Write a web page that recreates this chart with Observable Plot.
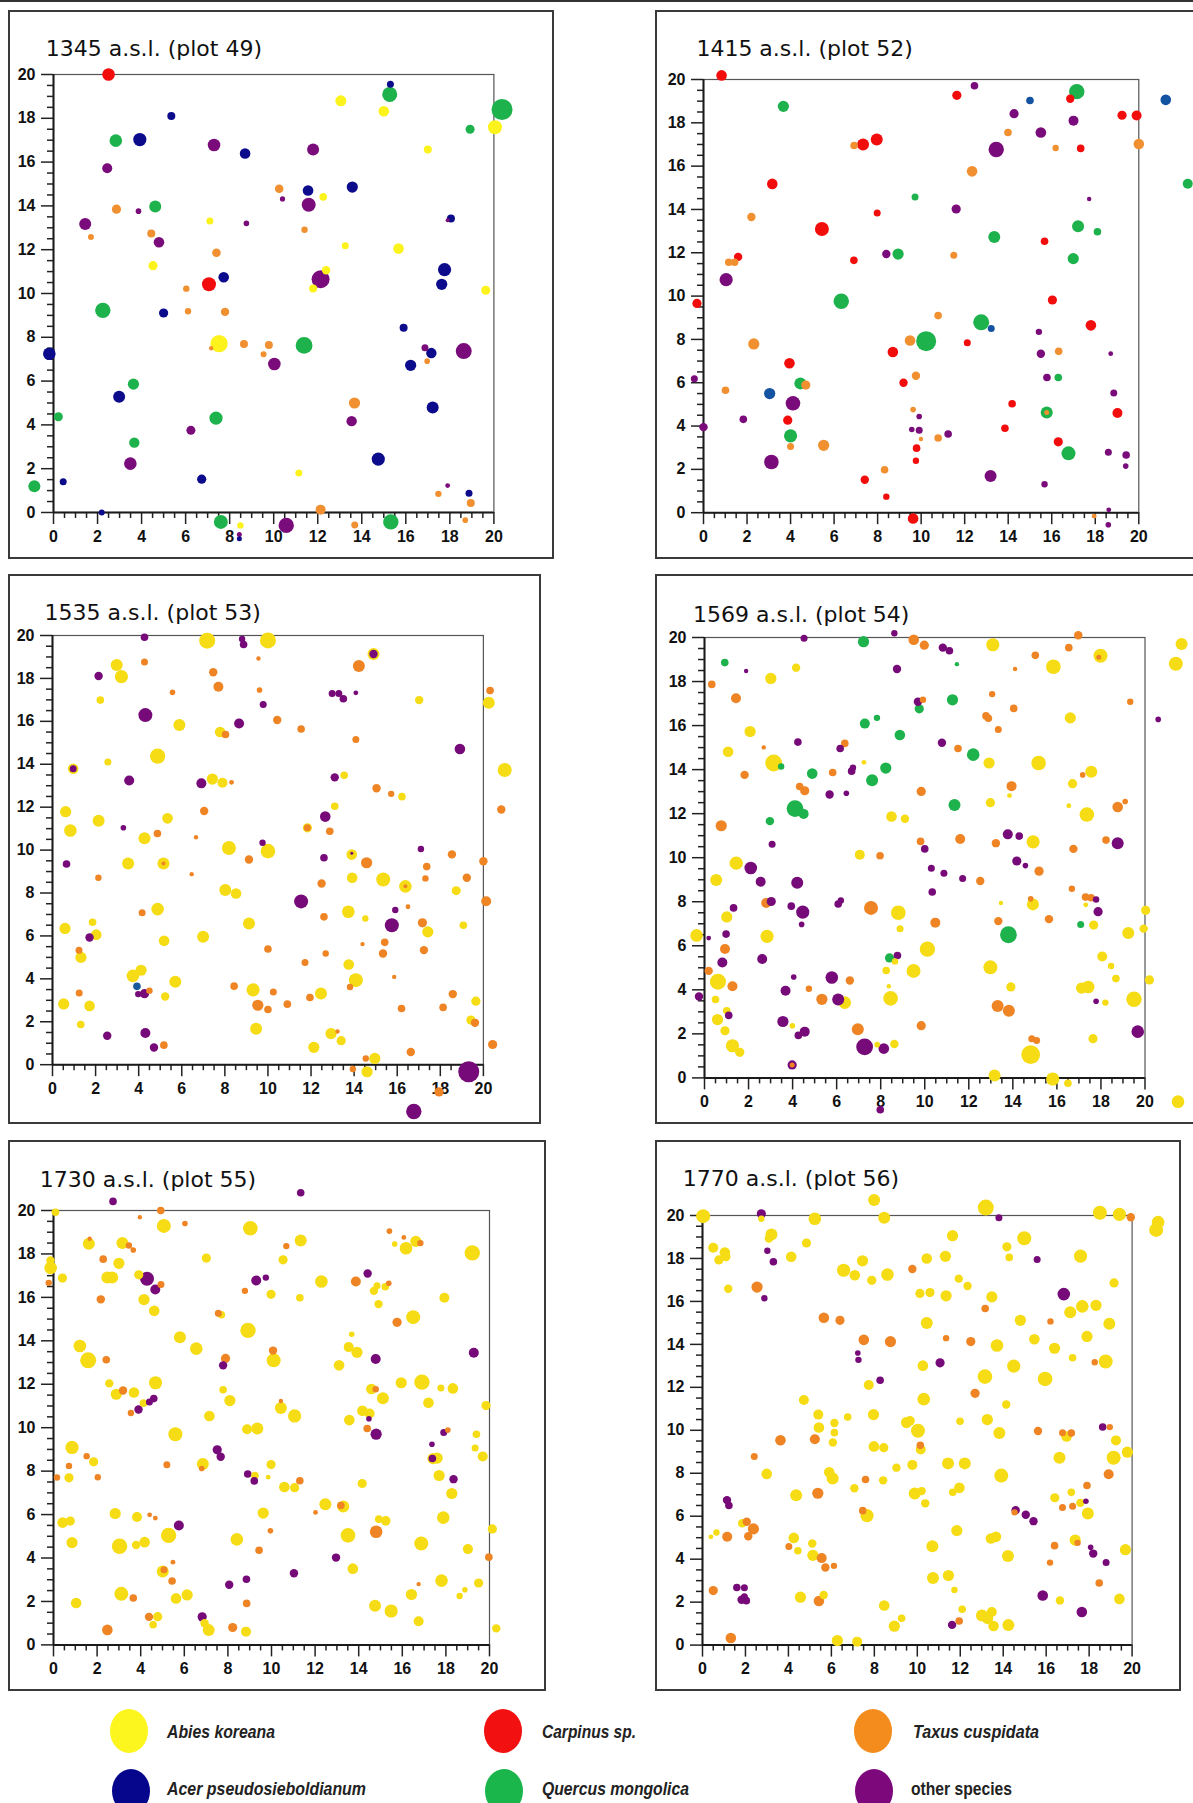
<!DOCTYPE html>
<html><head><meta charset="utf-8">
<script src="https://cdn.jsdelivr.net/npm/d3@7"></script>
<script src="https://cdn.jsdelivr.net/npm/@observablehq/plot@0.6"></script>
<style>
html,body{margin:0;padding:0;background:#fff;overflow:hidden}
#page{position:relative;width:1193px;height:1803px;overflow:hidden;background:#fff}
#page svg text{font-weight:bold}
#page svg.deco text.title{font-weight:normal}
#page svg.deco text.leg{font-weight:bold}
</style></head><body><div id="page"></div>
<script>
// species categories
const speciesCodes = ["A","C","T","P","Q","O"];
const speciesNames = ["Abies koreana","Carpinus sp.","Taxus cuspidata","Acer pseudosieboldianum","Quercus mongolica","other species"];
const majorTicks = [0,2,4,6,8,10,12,14,16,18,20];
const panelTitles = ["1345 a.s.l. (plot 49)","1415 a.s.l. (plot 52)","1535 a.s.l. (plot 53)","1569 a.s.l. (plot 54)","1730 a.s.l. (plot 55)","1770 a.s.l. (plot 56)"];

// [x (m), y (m), size, species]
const p49 = [[2.5,20.0,6.3,"C"],[15.3,19.55,3.5,"P"],[13.05,18.8,5.5,"A"],[15.27,19.09,7.5,"Q"],[20.37,18.4,10.5,"Q"],[15.0,18.32,5.3,"A"],[20.05,17.59,7,"A"],[18.92,17.5,4.5,"Q"],[5.35,18.1,4,"P"],[2.83,16.98,6.3,"Q"],[3.92,17.03,6.6,"P"],[7.29,16.78,6.3,"O"],[8.7,16.39,5.3,"P"],[11.79,16.57,6,"O"],[17.0,16.57,4,"A"],[2.44,15.72,5,"O"],[10.25,14.78,4.3,"T"],[11.56,14.7,5.3,"P"],[10.4,14.32,2.6,"O"],[12.25,14.41,3.8,"A"],[13.57,14.86,5.6,"P"],[11.59,14.05,7,"O"],[2.86,13.85,4.6,"T"],[3.86,13.76,2.8,"O"],[4.62,13.97,6,"Q"],[1.44,13.17,6,"O"],[1.7,12.58,3,"T"],[7.1,13.31,3.5,"A"],[8.76,13.2,2.8,"O"],[4.44,12.74,4,"T"],[4.79,12.34,5.3,"O"],[11.4,12.91,3.2,"T"],[17.9,13.35,2,"O"],[18.05,13.42,4,"P"],[13.25,12.18,3.5,"A"],[15.67,12.05,5.3,"A"],[7.4,11.86,4.3,"T"],[4.52,11.27,4.6,"A"],[17.76,11.09,6.6,"P"],[7.73,10.74,5.3,"P"],[7.06,10.42,7,"C"],[12.38,11.06,4.2,"A"],[12.13,10.65,9,"O"],[11.79,10.23,4,"A"],[17.63,10.42,5.6,"P"],[19.63,10.15,4.5,"A"],[6.03,10.22,3.2,"T"],[2.24,9.23,7.7,"Q"],[5.0,9.11,4.6,"P"],[6.11,9.19,3.2,"T"],[7.79,9.16,4.2,"T"],[15.9,8.44,4,"P"],[7.52,7.71,8.7,"A"],[7.16,7.5,2.2,"T"],[8.65,7.69,4,"T"],[9.78,7.65,4,"T"],[9.54,7.23,3,"T"],[11.38,7.63,8.4,"Q"],[10.03,6.78,6.3,"O"],[-0.19,7.25,6.3,"P"],[16.87,7.52,3.5,"O"],[17.16,7.28,5.2,"P"],[16.97,6.91,2.8,"T"],[18.63,7.37,8,"O"],[16.22,6.72,5.6,"P"],[3.63,5.86,5.6,"Q"],[2.98,5.28,6,"P"],[13.67,5.0,5.6,"T"],[0.22,4.37,4.5,"Q"],[7.38,4.31,6.6,"Q"],[13.54,4.17,5.2,"O"],[17.22,4.79,6,"P"],[6.24,3.75,4.5,"O"],[3.67,3.19,5.2,"Q"],[3.49,2.23,6.3,"O"],[14.75,2.44,6.6,"P"],[11.14,1.8,3.5,"A"],[-0.87,1.2,6,"Q"],[0.44,1.4,3.5,"P"],[6.73,1.52,4.6,"P"],[17.9,1.23,2.4,"O"],[17.48,0.85,3.2,"T"],[18.87,0.88,3.5,"P"],[18.95,0.43,4,"T"],[2.19,0,3,"P"],[12.13,0.13,5,"T"],[7.6,-0.43,7,"Q"],[8.49,-0.59,3.2,"A"],[8.44,-1.0,2.5,"O"],[8.44,-1.2,2.5,"P"],[10.57,-0.59,7.7,"O"],[13.68,-0.57,3.5,"T"],[15.32,-0.43,7.7,"Q"],[18.7,-0.35,2.8,"T"]];

const p52 = [[0.83,20.19,5.3,"C"],[3.67,18.76,5.6,"Q"],[11.64,19.27,4.6,"C"],[12.45,19.71,3.8,"O"],[15.0,19.03,3.8,"P"],[16.85,19.11,4.2,"C"],[17.15,19.44,7.7,"Q"],[21.24,19.06,5.3,"P"],[14.27,18.42,4.6,"O"],[17.0,18.1,5,"O"],[19.23,18.35,4.6,"C"],[19.9,18.34,5,"C"],[13.99,17.55,3.8,"T"],[15.5,17.55,5.3,"O"],[6.92,16.95,3.8,"T"],[7.33,17.0,6,"C"],[7.96,17.23,6,"C"],[13.45,16.77,7.7,"O"],[16.18,16.84,3.2,"T"],[17.33,16.82,3.8,"C"],[20.0,17.02,5.3,"T"],[12.34,15.76,5.3,"T"],[3.16,15.18,5.3,"C"],[9.72,14.58,3.5,"Q"],[22.25,15.19,5,"Q"],[7.98,13.84,3.5,"C"],[11.61,14.02,4.6,"O"],[17.72,14.48,2.2,"O"],[2.2,13.65,4.2,"T"],[5.44,13.1,7,"C"],[13.36,12.73,6,"Q"],[17.21,13.23,6,"Q"],[18.1,12.97,3.8,"Q"],[15.67,12.53,3.8,"C"],[1.59,11.81,4.2,"C"],[1.16,11.56,3.8,"T"],[1.43,11.56,3.8,"T"],[6.91,11.65,3.8,"C"],[8.4,11.94,4.2,"O"],[8.94,11.94,5.6,"Q"],[11.5,11.89,3.5,"T"],[16.99,11.73,5.6,"Q"],[1.04,10.76,6.6,"O"],[-0.3,9.66,4.6,"C"],[6.33,9.76,7.7,"Q"],[16.03,9.82,4.6,"C"],[10.78,9.1,3.8,"T"],[12.76,8.79,8,"Q"],[13.22,8.5,3.5,"P"],[17.8,8.65,5.3,"C"],[15.41,8.35,3.2,"O"],[2.31,7.79,5.6,"T"],[9.49,7.95,5.3,"T"],[10.23,7.92,10,"Q"],[12.12,7.85,3.5,"C"],[8.7,7.42,5.3,"C"],[15.5,7.34,4.2,"O"],[16.32,7.45,3.8,"T"],[18.71,7.34,2.4,"O"],[3.95,6.9,5.3,"C"],[-0.42,6.18,3.5,"O"],[4.45,5.97,6,"Q"],[4.7,5.89,4.6,"T"],[1.01,5.65,3.8,"T"],[3.04,5.5,5.6,"P"],[4.11,5.05,7.3,"O"],[9.19,6.0,4.2,"C"],[9.76,6.32,4.2,"T"],[15.78,6.24,3.8,"O"],[16.3,6.24,3.8,"Q"],[18.85,5.53,3.5,"O"],[1.83,4.31,3.8,"O"],[3.87,4.27,4.6,"C"],[0,3.95,4.2,"O"],[9.63,4.76,2.8,"T"],[9.91,4.44,2.8,"O"],[9.57,3.84,2.8,"O"],[9.91,3.81,3.5,"O"],[9.99,3.4,2.2,"T"],[10.78,3.45,3.8,"T"],[11.24,3.63,3.8,"O"],[14.18,5.03,3.8,"C"],[13.85,3.9,3.8,"C"],[15.77,4.63,6,"Q"],[15.77,4.63,2.5,"T"],[19.02,4.6,5,"C"],[4.0,3.55,6.6,"Q"],[4.0,3.06,3.5,"T"],[5.52,3.11,5.6,"T"],[9.79,2.98,3.8,"C"],[16.3,3.27,4.6,"C"],[16.77,2.74,7,"Q"],[18.6,2.79,3.5,"O"],[19.42,2.66,3.8,"O"],[19.4,2.15,2.8,"O"],[9.76,2.4,3.2,"C"],[3.12,2.34,7.3,"O"],[8.32,1.98,3.8,"T"],[7.41,1.52,4.2,"C"],[13.19,1.69,6,"O"],[15.67,1.31,3.2,"O"],[8.4,0.74,3.2,"C"],[9.63,-0.27,5.3,"C"],[17.95,-0.16,2.4,"T"],[18.62,0.13,2.4,"O"],[18.6,-0.56,2.8,"O"]];

const p53 = [[4.27,19.92,3.8,"O"],[7.18,19.76,8,"A"],[8.8,19.84,3.2,"O"],[8.87,19.58,3.8,"O"],[10.0,19.77,8,"A"],[14.9,19.14,6,"A"],[14.9,19.14,4.2,"O"],[14.22,18.58,6,"T"],[4.27,18.76,3.5,"T"],[9.56,18.93,2.2,"T"],[2.98,18.63,6,"A"],[3.2,18.08,6.6,"A"],[2.14,18.11,4.2,"O"],[7.46,18.29,4.2,"T"],[7.7,17.61,5,"T"],[5.57,17.35,2.8,"T"],[9.61,17.46,2.8,"T"],[2.22,16.99,3.8,"A"],[12.98,17.3,3.5,"O"],[13.29,17.3,3.5,"O"],[13.5,17.05,3.8,"O"],[14.08,17.33,2.4,"O"],[20.31,17.44,3.8,"T"],[20.25,16.87,6,"A"],[17.02,16.99,4.2,"A"],[4.31,16.29,7,"O"],[9.78,16.78,3.5,"O"],[10.43,16.06,4.2,"T"],[5.89,15.83,6,"A"],[8.66,15.9,5,"O"],[7.78,15.5,5.3,"A"],[8.03,15.39,3.8,"T"],[11.54,15.64,3.8,"T"],[14.08,15.15,3.5,"T"],[18.91,14.71,5.3,"O"],[4.88,14.38,7.7,"A"],[2.57,14.1,3.5,"A"],[0.96,13.79,5.3,"A"],[0.96,13.79,3.5,"O"],[20.99,13.73,7,"A"],[3.56,13.24,5,"O"],[7.42,13.31,5.6,"A"],[7.89,13.14,5,"A"],[8.31,13.16,2.4,"T"],[6.91,13.11,5,"O"],[13.1,13.39,4.2,"O"],[13.54,13.49,3.8,"A"],[15.04,12.88,4.2,"T"],[15.72,12.62,3.2,"T"],[16.22,12.49,3.8,"A"],[0.61,11.79,5.6,"A"],[7.04,11.82,4.2,"T"],[13.1,12.04,3.8,"A"],[20.83,11.89,4.2,"T"],[2.14,11.37,6,"A"],[5.34,11.48,5.3,"A"],[12.66,11.56,5.3,"O"],[0.83,10.91,6.3,"A"],[3.29,11.04,2.8,"O"],[11.83,11.04,4.6,"A"],[11.83,11.04,3.5,"T"],[12.87,10.88,3.8,"T"],[4.27,10.55,6,"A"],[4.87,10.77,3.8,"T"],[6.66,10.6,2.2,"T"],[9.75,10.34,3.2,"O"],[8.19,10.1,7,"A"],[10.0,9.95,7.3,"A"],[17.1,10.05,3.2,"O"],[13.89,9.79,5.3,"A"],[13.89,9.85,1.5,"O"],[0.65,9.35,3.8,"O"],[3.51,9.38,6,"A"],[5.15,9.38,6,"A"],[5.15,9.38,2,"T"],[9.12,9.56,4.2,"T"],[12.6,9.64,3.8,"O"],[14.58,9.41,5.6,"T"],[18.54,9.8,4.2,"T"],[20.0,9.48,4.2,"T"],[17.37,9.23,3.8,"T"],[2.13,8.71,3.2,"T"],[6.46,8.88,2.2,"T"],[13.91,8.71,5.3,"A"],[15.35,8.63,7,"A"],[17.31,8.68,3.2,"T"],[19.23,8.71,4.2,"T"],[12.49,8.44,4.2,"T"],[16.38,8.31,6.3,"A"],[16.38,8.31,2,"T"],[8.02,8.14,6,"A"],[8.52,7.98,5.3,"A"],[18.74,8.11,4.5,"A"],[11.54,7.61,7,"O"],[20.13,7.62,5,"T"],[4.88,7.25,6.3,"A"],[4.16,7.08,3.5,"T"],[13.73,7.13,6.3,"A"],[15.91,7.21,3.2,"O"],[16.5,7.36,2.4,"T"],[14.52,6.81,3.2,"A"],[12.6,6.89,3.8,"T"],[9.12,6.58,6,"A"],[15.75,6.5,7,"O"],[17.17,6.61,4.6,"T"],[17.42,6.19,5.6,"A"],[19.07,6.5,3.8,"A"],[0.58,6.35,5.6,"A"],[1.86,6.64,3.8,"A"],[2.03,6.06,5.3,"A"],[1.72,5.93,4.2,"O"],[6.99,5.96,6,"A"],[5.18,5.77,5.3,"A"],[10.0,5.39,3.8,"T"],[14.39,5.62,2.2,"T"],[15.42,5.7,3.8,"T"],[15.34,5.18,4.2,"T"],[12.68,5.18,3.2,"T"],[17.24,5.34,4.2,"T"],[1.23,5.33,3.5,"T"],[1.32,5.0,5.6,"A"],[11.72,4.76,3.5,"T"],[13.75,4.67,5.3,"A"],[4.11,4.4,5.6,"A"],[3.73,4.14,6.3,"A"],[15.86,4.09,2.2,"T"],[14.08,3.94,7,"A"],[5.7,3.86,6,"A"],[8.43,3.66,3.8,"T"],[3.92,3.65,3.8,"P"],[3.98,3.29,3.2,"O"],[4.5,3.45,3.2,"T"],[4.27,3.31,4.6,"O"],[13.81,3.62,3.2,"T"],[9.31,3.49,6.6,"A"],[1.24,3.34,3.5,"T"],[10.25,3.39,3.5,"T"],[12.46,3.32,6,"A"],[11.95,3.13,3.8,"T"],[18.58,3.29,4.2,"T"],[5.23,3.18,4.2,"A"],[0.52,2.83,5.6,"A"],[1.72,2.74,5.3,"A"],[9.53,2.77,5.6,"T"],[10.0,2.57,3.8,"T"],[10.9,2.82,3.8,"T"],[16.2,2.62,3.8,"T"],[18.13,2.67,3.8,"T"],[19.65,2.96,4.6,"A"],[19.42,2.08,4.6,"A"],[19.61,1.95,4.2,"T"],[1.31,1.87,3.8,"A"],[9.45,1.68,6,"A"],[2.54,1.35,4.2,"O"],[4.31,1.48,5,"O"],[12.93,1.45,5.6,"A"],[13.23,1.55,2.2,"T"],[13.4,1.12,4.6,"A"],[4.71,0.8,4.2,"O"],[5.17,0.91,3.8,"T"],[12.13,0.81,5.6,"A"],[16.63,0.59,4.2,"T"],[20.43,0.94,4.6,"T"],[14.54,0.29,3.2,"T"],[14.96,0.29,5.6,"A"],[14.6,-0.33,5.6,"A"],[13.94,-0.2,3.2,"T"],[19.32,-0.33,10.5,"O"],[17.94,-1.27,4.6,"T"],[16.77,-2.18,7.7,"O"]];

const p54 = [[4.52,19.97,3.5,"O"],[8.62,20.19,3.2,"O"],[7.22,19.81,5.6,"Q"],[9.5,19.9,5.3,"T"],[9.98,19.65,4.6,"T"],[10.82,19.54,4.2,"O"],[11.12,19.4,3.8,"O"],[13.09,19.67,6.6,"A"],[15.02,19.19,3.8,"T"],[16.54,19.54,3.8,"T"],[16.97,20.1,4.2,"T"],[17.98,19.17,7,"A"],[17.9,19.1,2.5,"T"],[21.66,19.7,6,"A"],[21.4,18.81,7,"A"],[0.92,18.86,3.8,"Q"],[1.89,18.48,2.2,"O"],[4.16,18.63,4.2,"A"],[8.74,18.57,4.2,"O"],[11.46,18.79,2.2,"Q"],[15.84,18.67,7.3,"A"],[14.1,18.57,2.2,"T"],[3.01,18.14,5.6,"A"],[0.33,17.87,3.8,"T"],[1.43,17.24,5,"T"],[11.26,17.17,5.6,"Q"],[9.69,17.08,4.2,"O"],[9.92,17.17,3.2,"T"],[9.75,16.76,4.6,"Q"],[13.06,17.43,3.2,"T"],[19.33,17.08,3.2,"T"],[14.04,16.78,3.8,"T"],[12.78,16.44,3.8,"T"],[12.89,16.33,3.8,"T"],[16.61,16.35,5.6,"A"],[20.6,16.28,2.8,"O"],[7.83,16.35,3.2,"Q"],[7.28,16.09,5,"Q"],[2.07,15.73,5.6,"A"],[13.34,15.82,3.5,"T"],[8.87,15.57,5.3,"Q"],[4.24,15.25,3.8,"O"],[6.37,15.19,3.8,"T"],[6.16,14.96,3.8,"O"],[2.69,15.01,2.2,"T"],[1.07,14.81,5.3,"A"],[10.78,15.22,4.2,"O"],[11.51,14.96,3.8,"T"],[12.2,14.68,6.3,"Q"],[3.14,14.3,8.4,"A"],[3.48,14.14,3.2,"Q"],[7.24,14.33,2.4,"A"],[12.92,14.3,5.6,"A"],[15.17,14.3,7.3,"A"],[1.82,13.76,4.2,"T"],[4.89,13.82,5.3,"Q"],[5.82,13.87,3.8,"T"],[6.68,13.93,3.8,"O"],[6.74,14.09,3.2,"O"],[8.23,14.07,5.6,"Q"],[7.61,13.52,6,"Q"],[17.17,13.76,2.8,"T"],[17.56,13.9,6,"A"],[4.32,13.23,3.8,"T"],[4.55,13.04,4.6,"T"],[13.94,13.25,5,"T"],[16.71,13.36,4.6,"A"],[5.68,12.87,4.2,"O"],[6.44,12.93,2.8,"O"],[9.84,13.01,4.6,"T"],[13.85,12.82,2.4,"A"],[19.1,12.55,2.8,"T"],[4.11,12.23,8.4,"Q"],[4.5,11.99,5,"Q"],[11.35,12.39,6,"Q"],[12.98,12.5,4.6,"A"],[16.54,12.36,2.4,"A"],[17.36,11.96,7.3,"A"],[18.76,12.3,5.3,"T"],[0.76,11.45,5.6,"T"],[2.97,11.66,4.2,"Q"],[8.49,11.87,5.3,"A"],[9.1,11.77,4.2,"A"],[13.77,11.06,5,"O"],[14.29,10.98,3.8,"O"],[14.92,10.72,6.6,"A"],[18.23,10.8,3.8,"T"],[18.76,10.66,6,"O"],[3.07,10.61,3.5,"O"],[9.81,10.74,3.8,"T"],[10.0,10.4,3.8,"O"],[11.61,10.85,5,"T"],[13.23,10.66,4.2,"T"],[16.75,10.4,4.2,"T"],[7.05,10.13,5,"A"],[7.97,10.09,3.8,"T"],[1.44,9.75,6.6,"A"],[2.1,9.53,6.3,"O"],[10.3,9.52,3.5,"O"],[10.87,9.29,3.5,"O"],[14.18,9.85,4.6,"O"],[14.57,9.64,2.8,"O"],[15.19,9.39,4.6,"T"],[0.53,8.99,6,"A"],[2.55,8.91,5,"O"],[4.21,8.86,6,"O"],[11.72,9.05,3.5,"O"],[12.52,8.94,4.2,"T"],[16.68,8.59,3.2,"T"],[10.34,8.44,3.8,"O"],[1.32,7.72,3.8,"O"],[2.8,7.94,5,"T"],[3.03,8.01,4.6,"O"],[3.94,7.8,3.8,"O"],[4.46,7.53,6.6,"O"],[6.07,7.9,3.8,"O"],[6.19,8.06,3.2,"O"],[7.56,7.72,7,"T"],[8.8,7.5,7.3,"A"],[13.46,7.94,2.2,"A"],[14.91,7.88,6,"A"],[14.81,8.13,2.8,"T"],[17.3,8.21,3.8,"T"],[17.55,8.18,3.8,"T"],[17.31,7.86,2.4,"A"],[17.78,8.1,3.2,"O"],[17.87,7.55,4.6,"O"],[20.03,7.61,4.6,"A"],[1.01,7.31,5.6,"A"],[4.41,6.97,2.8,"O"],[10.48,7.05,5,"T"],[13.34,7.12,4.2,"T"],[15.64,7.21,4.2,"T"],[17.08,6.97,3.5,"Q"],[17.67,6.94,4.6,"A"],[8.88,6.77,3.5,"A"],[13.8,6.5,8.4,"Q"],[19.94,6.78,4.2,"A"],[19.24,6.58,6,"A"],[-0.36,6.47,6.3,"A"],[0.19,6.35,2.4,"O"],[0.98,6.53,3.8,"O"],[2.84,6.43,6.6,"A"],[0.93,5.85,5,"T"],[10.12,5.85,7.7,"A"],[0.81,5.24,5,"O"],[2.62,5.4,5,"O"],[8.4,5.45,4.6,"Q"],[8.76,5.56,3.8,"O"],[8.65,5.29,3.2,"A"],[18.06,5.51,5,"A"],[18.46,5.08,3.2,"A"],[12.98,5.02,7,"A"],[0.19,4.86,4.2,"T"],[9.49,4.86,7,"A"],[8.25,4.88,3.8,"A"],[5.78,4.56,6.3,"O"],[4.05,4.58,2.8,"O"],[18.68,4.51,3.8,"A"],[20.2,4.45,4.6,"A"],[0.61,4.37,8,"A"],[1.27,4.16,5,"T"],[6.6,4.42,4.2,"T"],[4.74,4.05,3.2,"T"],[3.68,3.96,5,"O"],[13.91,4.13,4.6,"A"],[8.37,4.16,2.2,"A"],[17.42,4.13,6.3,"A"],[17.12,4.08,5.6,"A"],[-0.25,3.7,4.2,"O"],[0.5,3.56,3.8,"A"],[5.33,3.57,5.6,"T"],[6.07,3.56,6,"O"],[6.37,3.42,6.3,"A"],[8.45,3.61,7.3,"A"],[17.78,3.48,2.8,"O"],[18.2,3.42,3.2,"A"],[19.5,3.57,7.7,"A"],[13.31,3.27,6,"T"],[13.82,3.05,6,"T"],[1.01,3.05,3.8,"A"],[1.1,2.84,3.8,"O"],[0.59,2.65,5.6,"A"],[3.56,2.56,5.6,"O"],[3.99,2.37,2.8,"A"],[6.96,2.21,6,"T"],[9.84,2.37,4.6,"T"],[0.93,2.14,4.6,"A"],[4.55,2.1,5,"O"],[4.26,1.93,3.8,"O"],[19.67,2.1,6.3,"O"],[1.27,1.46,6.6,"A"],[1.6,1.16,4.6,"A"],[7.27,1.41,8.4,"O"],[7.84,1.51,2.8,"A"],[8.14,1.33,5.3,"O"],[8.62,1.54,4.2,"A"],[14.86,1.78,3.5,"T"],[15.08,1.7,3.5,"T"],[17.64,1.78,4.6,"A"],[14.81,1.06,9.4,"A"],[3.98,0.59,4.6,"O"],[3.98,0.59,2.5,"T"],[13.17,0.11,6,"A"],[15.81,-0.05,6.6,"A"],[16.5,-0.24,3.8,"A"],[7.98,-1.45,3.8,"O"],[21.5,-1.08,6.3,"A"]];

const p55 = [[2.73,20.42,3.8,"O"],[11.34,20.82,3.8,"O"],[0.09,19.92,3.8,"A"],[4.92,20.0,3.8,"T"],[3.96,19.69,2.2,"T"],[5.06,19.29,7,"A"],[6.03,19.4,2.8,"T"],[9.03,19.18,7.3,"A"],[15.41,19.05,2.8,"T"],[16.07,18.76,2.4,"T"],[16.17,18.26,6.3,"A"],[16.62,18.58,5.6,"A"],[16.83,18.5,3.2,"T"],[15.65,18.46,2.8,"A"],[19.21,18.05,7.7,"A"],[11.34,18.62,6,"A"],[10.68,18.36,3.2,"T"],[10.53,17.73,4.6,"A"],[1.62,18.47,6,"A"],[1.66,18.7,2.2,"T"],[3.16,18.5,6,"A"],[3.46,18.39,3.2,"T"],[3.66,18.18,2.8,"T"],[2.28,17.76,3.8,"T"],[3.0,17.57,5.6,"A"],[7.01,17.81,4.6,"A"],[-0.13,17.36,6.3,"A"],[-0.14,17.7,4.2,"A"],[0.41,16.89,4.6,"A"],[-0.22,16.67,3.2,"T"],[2.47,16.91,6,"A"],[2.69,16.91,6,"A"],[3.91,17.04,4.6,"A"],[4.29,16.86,7,"O"],[4.93,16.59,3.5,"T"],[4.67,16.36,5,"O"],[4.15,15.9,5.6,"A"],[2.17,15.91,4.2,"T"],[4.62,15.38,5.3,"A"],[9.3,16.78,5,"O"],[9.74,16.91,3.2,"O"],[9.98,16.14,4.6,"A"],[12.29,16.73,6.3,"A"],[11.3,15.98,3.8,"A"],[8.78,16.3,3.2,"T"],[7.7,15.2,3.8,"A"],[7.56,15.27,3.5,"T"],[14.41,17.1,4.2,"O"],[13.87,16.73,5,"T"],[14.7,16.3,4.2,"A"],[14.84,16.54,3.5,"A"],[15.22,16.49,3.8,"A"],[15.38,16.65,2.8,"T"],[14.91,15.69,4.2,"A"],[16.5,15.09,7,"A"],[15.76,14.85,4.6,"T"],[17.93,15.98,5,"A"],[8.92,14.48,7.7,"A"],[5.8,14.16,6,"A"],[6.55,13.64,6.3,"A"],[13.68,14.3,2.8,"A"],[13.54,13.71,5,"A"],[13.92,13.47,5.6,"A"],[1.21,13.76,6.3,"A"],[1.59,13.1,8,"A"],[2.42,13.13,3.8,"T"],[10.07,13.55,4.2,"T"],[10.1,13.1,7,"A"],[7.89,13.19,4.6,"T"],[7.78,12.87,4.2,"O"],[14.78,13.16,5,"O"],[13.1,12.87,5.3,"A"],[19.28,13.45,5,"O"],[2.56,12.04,4.2,"A"],[2.88,11.54,5.6,"A"],[3.19,11.71,4.2,"T"],[3.69,11.62,5.3,"A"],[4.68,12.07,6.6,"A"],[4.6,11.34,3.8,"O"],[4.4,11.18,3.5,"O"],[4.13,11.13,3.8,"A"],[3.55,10.68,3.2,"T"],[3.9,10.84,4.2,"O"],[7.78,11.75,3.8,"A"],[8.09,11.25,5.6,"A"],[7.15,10.54,5.3,"A"],[5.59,9.7,7,"A"],[10.43,10.91,6,"A"],[10.43,11.23,2.2,"T"],[11.06,10.54,6.6,"A"],[8.88,9.93,5,"A"],[9.35,9.96,6,"A"],[0.85,9.09,6.6,"A"],[1.52,8.69,3.2,"T"],[1.84,8.43,4.6,"A"],[0.71,8.24,3.2,"T"],[0.16,7.71,3.2,"T"],[0.71,7.69,4.6,"A"],[2.03,7.72,3.2,"T"],[5.2,8.29,3.5,"T"],[6.85,8.33,6,"A"],[6.8,8.12,2.8,"T"],[7.51,8.98,4.6,"O"],[7.67,8.66,4.2,"O"],[9.98,8.3,4.6,"A"],[8.91,7.87,3.8,"O"],[9.24,7.8,3.8,"A"],[9.21,7.55,3.8,"O"],[9.85,7.72,2.4,"A"],[11.3,7.56,3.8,"T"],[10.59,7.27,5.3,"A"],[11.06,7.24,4.6,"A"],[14.16,7.43,4.6,"A"],[17.69,7.8,5.6,"A"],[18.35,7.63,4.2,"O"],[18.27,6.97,5.6,"A"],[17.41,8.58,5.6,"A"],[17.6,8.6,5.6,"A"],[17.38,8.58,3.8,"O"],[17.36,9.24,2.8,"O"],[17.9,9.78,3.5,"O"],[18.09,9.89,2.8,"T"],[19.69,8.67,5,"A"],[19.34,9.06,3.5,"A"],[19.4,9.7,3.8,"A"],[19.84,11.02,4.6,"A"],[18.32,11.81,5.3,"A"],[17.77,11.83,3.5,"A"],[16.9,12.1,7.7,"A"],[15.95,12.07,5.6,"A"],[17.2,11.15,5.3,"A"],[14.58,11.78,5.3,"A"],[14.78,11.77,3.2,"T"],[15.11,11.36,6,"A"],[14.17,10.78,5.3,"A"],[14.5,10.65,5,"A"],[14.47,10.41,2.8,"O"],[14.39,9.96,3.8,"T"],[14.8,9.7,5.6,"O"],[13.57,10.35,5.3,"A"],[12.47,6.48,6,"A"],[13.29,6.37,6,"A"],[13.18,6.42,3.8,"T"],[12.02,6.1,2.4,"T"],[9.62,6.07,5.6,"A"],[9.95,5.25,2.8,"T"],[2.83,6.05,5.6,"A"],[3.83,5.89,5,"A"],[4.41,5.99,2.4,"T"],[4.67,5.84,2.4,"T"],[0.42,5.63,5.3,"A"],[0.77,5.7,4.6,"A"],[0.85,4.71,5.6,"A"],[5.75,5.5,5,"O"],[5.28,5.04,7.7,"A"],[3.03,4.54,7.7,"A"],[4.18,4.73,5.3,"A"],[3.79,4.6,4.2,"A"],[8.41,4.86,6.3,"A"],[9.43,4.36,3.8,"T"],[13.51,5.04,7.3,"A"],[14.8,5.21,6.3,"T"],[15.24,5.71,4.8,"A"],[14.92,5.79,3.8,"A"],[17.88,5.86,6.3,"A"],[16.87,4.67,7,"A"],[20.13,5.34,4.6,"A"],[19.97,4.04,3.8,"T"],[19.01,4.41,5,"A"],[12.96,4.02,4.2,"O"],[13.73,3.51,5.3,"A"],[11.03,3.3,4.2,"O"],[5.48,3.81,2.4,"T"],[5.01,3.38,6,"A"],[5.07,3.46,3.5,"T"],[5.44,2.94,3.8,"T"],[3.11,2.35,7,"A"],[3.66,2.16,3.8,"T"],[5.62,2.14,5.3,"A"],[6.13,2.3,5.6,"A"],[8.06,2.77,4.2,"O"],[8.85,3.02,3.8,"O"],[8.86,1.91,3.8,"T"],[1.04,1.93,5.3,"A"],[17.8,2.96,6.3,"A"],[16.42,2.32,5.6,"A"],[16.75,2.8,2.2,"T"],[19.5,2.85,4.6,"A"],[18.87,2.54,2.8,"A"],[18.63,2.25,3.2,"A"],[14.75,1.8,6,"A"],[15.49,1.56,6.6,"A"],[16.75,1.09,5,"A"],[20.31,0.76,4.2,"A"],[4.38,1.29,4.2,"T"],[4.78,1.3,4.6,"A"],[4.57,0.93,3.8,"A"],[6.82,1.29,4.6,"O"],[7.12,0.68,6,"A"],[6.93,1.0,4.2,"A"],[2.47,0.69,5.3,"T"],[8.22,0.8,4.6,"T"],[8.83,0.61,5,"A"]];

const p56 = [[0.03,19.97,7,"A"],[2.74,20.08,4.6,"O"],[2.74,19.85,3.2,"A"],[5.23,19.85,6.3,"A"],[7.99,20.72,6,"A"],[8.46,19.9,6,"A"],[13.19,20.37,8,"A"],[13.8,19.9,3.5,"O"],[18.5,20.13,7,"A"],[19.41,20.05,6.6,"A"],[19.94,19.92,4.2,"T"],[21.21,19.69,6.3,"A"],[21.12,19.33,7,"A"],[3.21,19.11,6,"A"],[3.09,18.93,4.2,"A"],[0.5,18.5,5,"A"],[1.04,18.28,5.3,"A"],[1.09,18.08,4.6,"A"],[0.76,17.93,4.6,"A"],[3.02,18.36,3.2,"O"],[3.3,17.85,3.8,"O"],[4.13,18.08,5.3,"A"],[4.84,18.72,4.6,"A"],[1.2,16.59,4.2,"A"],[2.54,16.67,5.6,"T"],[2.88,16.15,3.2,"O"],[6.57,17.45,6.6,"A"],[7.09,17.22,5.3,"A"],[7.45,17.89,5.6,"A"],[7.88,16.98,4.6,"A"],[8.61,17.25,6.3,"A"],[9.77,17.51,4.2,"T"],[10.44,18.0,5.3,"A"],[11.31,18.1,5.6,"A"],[11.64,19.06,5.6,"A"],[10.12,16.37,4.6,"A"],[10.59,16.41,4.6,"A"],[11.34,16.26,5.6,"A"],[11.93,17.06,4.2,"A"],[12.34,16.72,4.2,"A"],[14.17,18.54,4.6,"A"],[14.28,18.05,3.8,"A"],[14.98,18.94,7,"A"],[15.58,17.95,3.5,"O"],[17.6,18.11,6.6,"A"],[19.16,16.86,4.6,"A"],[16.82,16.34,6.3,"O"],[13.16,15.67,3.8,"T"],[13.47,16.21,5.6,"A"],[17.12,15.5,6,"A"],[17.68,15.77,6.3,"A"],[18.32,15.82,5.6,"A"],[18.94,14.96,6,"A"],[16.2,15.07,3.2,"T"],[14.8,15.12,5.6,"A"],[5.65,15.24,5.3,"T"],[6.4,15.12,4.6,"T"],[10.44,14.99,6,"A"],[7.51,14.21,5.3,"T"],[8.75,14.13,5.6,"T"],[11.34,14.29,3.2,"T"],[12.49,14.13,4.6,"T"],[13.71,13.95,6.3,"A"],[15.45,14.24,5.3,"A"],[17.9,14.37,5.6,"A"],[16.39,13.82,5.6,"A"],[17.23,13.38,3.8,"A"],[7.23,13.6,2.8,"O"],[7.26,13.28,3.2,"O"],[11.06,13.14,4.6,"O"],[10.26,13.01,5.3,"A"],[14.49,12.99,6.6,"A"],[18.26,13.17,3.2,"T"],[18.77,13.2,7,"A"],[13.15,12.5,7.3,"A"],[15.95,12.39,7.3,"A"],[8.27,12.33,3.8,"O"],[7.74,12.11,5,"A"],[12.69,11.72,4.6,"T"],[4.72,11.41,5,"A"],[10.3,11.45,6.3,"A"],[14.14,11.2,4.2,"A"],[5.39,10.73,5,"A"],[5.42,10.13,5.3,"A"],[6.14,10.34,4.2,"A"],[6.14,9.89,3.8,"A"],[6.07,9.43,4.2,"A"],[6.76,10.62,3.8,"A"],[7.96,10.73,5.6,"A"],[9.5,10.36,5.6,"A"],[9.66,10.44,4.8,"A"],[10.03,9.98,7,"A"],[11.99,10.42,3.8,"A"],[13.26,10.5,5.6,"A"],[13.82,9.87,6,"A"],[15.62,9.97,4.2,"T"],[16.76,9.89,3.5,"T"],[17.17,9.87,3.8,"T"],[16.95,9.71,5.3,"A"],[18.63,10.15,3.8,"O"],[18.96,10.15,3.2,"T"],[19.25,9.53,5,"A"],[19.78,8.98,5.6,"A"],[19.14,8.72,7,"A"],[16.62,8.72,6,"A"],[3.63,9.54,5.3,"T"],[5.23,9.58,5,"T"],[7.98,9.25,5.3,"A"],[8.44,9.19,4.6,"A"],[10.16,9.11,5,"A"],[10.14,9.3,3.8,"T"],[2.41,8.78,3.5,"T"],[2.99,7.97,5.3,"A"],[5.9,8.05,5.3,"A"],[6.06,7.76,6,"A"],[9.03,8.26,4.2,"A"],[9.77,8.39,5,"A"],[11.43,8.46,6,"A"],[12.21,8.46,6,"A"],[13.91,7.89,7,"A"],[18.91,7.95,5,"T"],[7.59,7.71,3.8,"T"],[8.41,7.67,4.2,"A"],[17.9,7.43,3.8,"T"],[7.07,7.3,4.2,"A"],[4.36,6.98,6,"A"],[5.37,7.07,5.6,"T"],[9.88,7.06,6,"A"],[10.2,7.17,4.2,"A"],[10.37,6.6,4.2,"A"],[11.65,7.11,3.8,"A"],[11.96,7.32,5.3,"A"],[16.4,6.86,4.6,"A"],[17.17,7.11,3.8,"A"],[17.59,6.62,4.2,"A"],[16.76,6.41,3.5,"T"],[17.23,6.46,3.5,"T"],[17.85,6.7,2.8,"O"],[17.94,6.13,6,"A"],[1.14,6.75,4.2,"O"],[1.23,6.5,3.8,"O"],[7.46,6.26,3.8,"T"],[7.66,6.03,6.6,"A"],[0.39,5.04,2.4,"A"],[0.65,5.24,3.2,"A"],[1.15,5.04,5,"T"],[1.85,5.67,4.2,"A"],[2.06,5.74,4.2,"T"],[2.37,5.41,5.6,"T"],[2.13,5.07,4.2,"T"],[4.25,4.99,5.3,"A"],[4.02,4.59,3.5,"T"],[4.44,4.39,3.8,"A"],[5.11,4.73,4.2,"A"],[5.14,4.18,5.6,"A"],[5.55,4.05,5,"T"],[5.72,3.61,4.2,"T"],[6.12,3.69,3.2,"T"],[10.7,4.6,6,"A"],[11.84,5.33,5.6,"A"],[13.43,4.96,5.3,"A"],[13.66,5.04,5.3,"A"],[14.22,4.15,6,"A"],[17.35,4.89,5.6,"A"],[17.46,4.76,3.2,"T"],[14.58,6.28,4.2,"O"],[15.05,6.07,4.2,"O"],[15.41,5.77,4.2,"O"],[14.53,6.18,3.2,"T"],[16.39,4.63,3.8,"T"],[18.07,4.55,2.8,"O"],[18.19,4.26,4.2,"O"],[16.18,3.84,3.2,"T"],[18.79,3.85,3.5,"O"],[19.69,4.44,5.6,"A"],[18.47,2.89,3.8,"T"],[11.45,3.24,5.6,"A"],[10.73,3.12,6,"A"],[11.73,2.57,3.2,"A"],[15.84,2.31,5.3,"O"],[16.64,2.08,4.2,"A"],[19.41,2.15,5.3,"A"],[17.66,1.54,5.3,"O"],[0.5,2.54,4.6,"T"],[1.6,2.68,3.8,"O"],[1.95,2.67,3.5,"O"],[1.82,2.11,4.2,"O"],[2.04,2.07,3.8,"O"],[1.95,2.25,3.5,"O"],[4.56,2.23,5.6,"A"],[5.64,2.33,4.2,"A"],[5.42,2.05,5.3,"T"],[8.46,1.84,5.3,"A"],[9.27,1.25,3.8,"A"],[8.93,0.88,5.6,"A"],[12.09,1.67,3.8,"A"],[11.95,1.12,3.8,"T"],[11.62,0.94,4.2,"O"],[13.01,1.38,6,"A"],[13.27,1.24,5.6,"A"],[13.47,1.54,5,"A"],[13.55,0.89,5.3,"A"],[14.24,0.93,6,"A"],[1.32,0.33,5.3,"T"],[6.28,0.21,5.6,"A"],[7.2,0.16,5,"A"]];

// colours
const palBright = ["#fcf21c","#f20d0d","#f09030","#0b0b8c","#1db24b","#7a0b7a"];
const pal52 = ["#fcf21c","#f20d0d","#f09030","#1452a2","#1db24b","#7a0b7a"];
const palWarm = ["#f5dc14","#f20d0d","#ee8424","#1a5a9a","#1db24b","#760a78"];
const legendColors = ["#fcf51e","#f21010","#f38c1c","#06068c","#1ab54b","#7c087c"];

const panels = [
  {title: panelTitles[0], data: p49, pal: palBright, box: [9, 11, 544, 547], x0: 52.7, x20: 493.1, y20: 73.9, y0: 511.9, tx: 45.7, ty: 56.4},
  {title: panelTitles[1], data: p52, pal: pal52, box: [656, 11, 600, 547], x0: 702.9, x20: 1138.2, y20: 79.2, y0: 512.4, tx: 696.4, ty: 56.4},
  {title: panelTitles[2], data: p53, pal: palWarm, box: [9, 575, 531, 548], x0: 52.1, x20: 483.0, y20: 635.1, y0: 1064.3, tx: 44.6, ty: 620.4},
  {title: panelTitles[3], data: p54, pal: palWarm, box: [656, 575, 600, 548], x0: 703.9, x20: 1144.4, y20: 637.2, y0: 1077.6, tx: 693, ty: 622},
  {title: panelTitles[4], data: p55, pal: palWarm, box: [9, 1141, 536, 549], x0: 52.5, x20: 488.5, y20: 1209.9, y0: 1644.3, tx: 39.8, ty: 1187},
  {title: panelTitles[5], data: p56, pal: palWarm, box: [656, 1141, 524, 549], x0: 702.3, x20: 1131.9, y20: 1214.7, y0: 1644.3, tx: 682.8, ty: 1186.4}
];

const page = d3.select("#page");
const deco = page.append("svg").attr("class", "deco").attr("width", 1193).attr("height", 1803)
  .style("position", "absolute").style("left", "0px").style("top", "0px");
deco.append("line").attr("x1", 0).attr("x2", 1193).attr("y1", 1).attr("y2", 1)
  .attr("stroke", "#333").attr("stroke-width", 2);

const minorTicks = d3.range(0, 20.001, 0.5).filter(v => v % 2 !== 0);
const tickFont = "'Liberation Sans Narrow','Arial Narrow','Liberation Sans',Arial,sans-serif";

for (const P of panels) {
  const [bx, by, bw, bh] = P.box;
  deco.append("rect").attr("x", bx).attr("y", by).attr("width", bw).attr("height", bh)
    .attr("fill", "none").attr("stroke", "#3a3a3a").attr("stroke-width", 2);
  deco.append("text").attr("class", "title").attr("x", P.tx).attr("y", P.ty).text(P.title)
    .attr("font-family", "'DejaVu Sans', Verdana, sans-serif").attr("font-size", 22).attr("fill", "#111");

  const mL = 60, mR = 72, mT = 42, mB = 62;
  const w = P.x20 - P.x0, h = P.y0 - P.y20;
  const axisText = {fontWeight: "bold", fontSize: 16, fontFamily: tickFont};
  const chart = Plot.plot({
    width: w + mL + mR, height: h + mT + mB,
    marginLeft: mL, marginRight: mR, marginTop: mT, marginBottom: mB,
    style: {background: "transparent", overflow: "visible", fontFamily: tickFont, fontSize: "16px", fontWeight: "bold", color: "#1a1a1a"},
    x: {domain: [0, 20], label: null},
    y: {domain: [0, 20], label: null},
    r: {type: "linear", domain: [0, 10], range: [0, 10]},
    color: {domain: speciesCodes, range: P.pal},
    marks: [
      Plot.frame({stroke: "#555", strokeWidth: 1.2}),
      Plot.axisX(minorTicks, {tickSize: 6, fill: "none", stroke: "#222", strokeWidth: 1.5}),
      Plot.axisY(minorTicks, {tickSize: 6, fill: "none", stroke: "#222", strokeWidth: 1.5}),
      Plot.axisX(majorTicks, {tickSize: 12, tickPadding: 6, stroke: "#222", strokeWidth: 1.5, fill: "#111", tickFormat: d => String(d), ...axisText}),
      Plot.axisY(majorTicks, {tickSize: 12, tickPadding: 6, stroke: "#222", strokeWidth: 1.5, fill: "#111", tickFormat: d => String(d), ...axisText}),
      Plot.ruleY([0], {stroke: "#1a1a1a", strokeWidth: 2}),
      Plot.ruleX([0], {stroke: "#1a1a1a", strokeWidth: 2}),
      Plot.dot(P.data, {x: d => d[0], y: d => d[1], r: d => d[2], fill: d => d[3]})
    ]
  });
  chart.style.position = "absolute";
  chart.style.left = (P.x0 - mL) + "px";
  chart.style.top = (P.y20 - mT) + "px";
  chart.style.maxWidth = "none";
  chart.querySelectorAll("text").forEach(t => t.setAttribute("font-weight", "bold"));
  page.node().appendChild(chart);
}

// legend
const legendPos = [
  {cx: 129, cy: 1731, tx: 167, ty: 1738, tw: 108},
  {cx: 503, cy: 1731, tx: 542, ty: 1738, tw: 94},
  {cx: 873, cy: 1731, tx: 913, ty: 1738, tw: 126},
  {cx: 131, cy: 1791, tx: 167, ty: 1795, tw: 199},
  {cx: 504, cy: 1791, tx: 542, ty: 1795, tw: 147},
  {cx: 874, cy: 1791, tx: 911, ty: 1795, tw: 101}
];
speciesNames.forEach((name, i) => {
  const L = legendPos[i];
  deco.append("ellipse").attr("cx", L.cx).attr("cy", L.cy).attr("rx", 19).attr("ry", 22).attr("fill", legendColors[i]);
  deco.append("text").attr("class", "leg").attr("x", L.tx).attr("y", L.ty).text(name)
    .attr("font-family", "'Liberation Sans Narrow','Arial Narrow','Liberation Sans',Arial,sans-serif")
    .attr("font-size", 19).attr("font-weight", "bold")
    .attr("font-style", i === 5 ? "normal" : "italic")
    .attr("fill", "#222")
    .attr("textLength", L.tw).attr("lengthAdjust", "spacingAndGlyphs");
});
</script>
</body></html>
